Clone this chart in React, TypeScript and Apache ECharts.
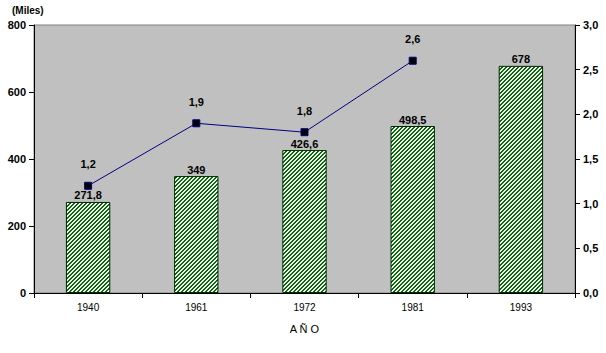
import React, { useEffect, useRef } from "react";
import * as echarts from "echarts";

const categories = ["1940", "1961", "1972", "1981", "1993"];
const population = [271.8, 349, 426.6, 498.5, 678];
const rate = [1.2, 1.9, 1.8, 2.6, null];
const leftTicks = { min: 0, max: 800, interval: 200 };
const rightTicks = { min: 0, max: 3, interval: 0.5 };

const fmt = (v: number, d?: number) => {
  const s = d === undefined ? String(v) : v.toFixed(d);
  return s.replace(".", ",");
};

function makeStripe(): string {
  const c = document.createElement("canvas");
  c.width = 4;
  c.height = 4;
  const ctx = c.getContext("2d")!;
  ctx.fillStyle = "#ffffff";
  ctx.fillRect(0, 0, 4, 4);
  ctx.fillStyle = "#007000";
  for (let x = 0; x < 4; x++) {
    for (let y = 0; y < 4; y++) {
      const k = (x + y) % 4;
      if (k === 0 || k === 1) ctx.fillRect(x, y, 1, 1);
    }
  }
  return c.toDataURL();
}

export default function App() {
  const ref = useRef<HTMLDivElement>(null);
  useEffect(() => {
    if (!ref.current) return;
    const chart = echarts.init(ref.current, null, { renderer: "svg" });
    const stripe = makeStripe();
    const font = "Liberation Sans, Arial, sans-serif";
    chart.setOption({
      animation: false,
      textStyle: { fontFamily: font },
      grid: {
        left: 34,
        right: 31,
        top: 25,
        bottom: 60,
        show: true,
        backgroundColor: "#C0C0C0",
        borderColor: "#808080",
        borderWidth: 1,
      },
      graphic: [
        {
          type: "text",
          left: 12,
          top: 5,
          style: { text: "(Miles)", font: `bold 10px ${font}`, fill: "#000" },
        },
      ],
      xAxis: {
        type: "category",
        data: categories,
        boundaryGap: true,
        name: "A Ñ O",
        nameLocation: "middle",
        nameGap: 30,
        nameTextStyle: { fontSize: 11, color: "#000", fontFamily: font },
        axisLine: { lineStyle: { color: "#000", width: 1 } },
        axisTick: { show: true, length: 5, lineStyle: { color: "#000" } },
        axisLabel: { color: "#000", fontSize: 10, margin: 9, fontFamily: font },
        splitLine: { show: false },
      },
      yAxis: [
        {
          type: "value",
          ...leftTicks,
          axisLine: { show: true, lineStyle: { color: "#000", width: 1 } },
          axisTick: { show: true, length: 5, lineStyle: { color: "#000" } },
          axisLabel: { color: "#000", fontSize: 11, fontWeight: "bold", margin: 8, fontFamily: font },
          splitLine: { show: false },
        },
        {
          type: "value",
          ...rightTicks,
          position: "right",
          axisLine: { show: true, lineStyle: { color: "#000", width: 1 } },
          axisTick: { show: true, length: 5, lineStyle: { color: "#000" } },
          axisLabel: {
            color: "#000",
            fontSize: 11,
            fontWeight: "bold",
            margin: 8,
            fontFamily: font,
            formatter: (v: number) => fmt(v, 1),
          },
          splitLine: { show: false },
        },
      ],
      series: [
        {
          type: "bar",
          data: population,
          barWidth: "41%",
          itemStyle: {
            color: { image: stripe, repeat: "repeat" },
            borderColor: "#002800",
            borderWidth: 1,
          },
          label: {
            show: true,
            position: "top",
            distance: 1,
            color: "#000",
            fontSize: 11,
            fontWeight: "bold",
            fontFamily: font,
            formatter: (p: any) => fmt(p.value),
          },
          z: 2,
        },
        {
          type: "line",
          yAxisIndex: 1,
          data: rate,
          symbol: "rect",
          symbolSize: 7,
          lineStyle: { color: "#000080", width: 1 },
          itemStyle: { color: "#000000", borderColor: "#000080", borderWidth: 1 },
          label: {
            show: true,
            position: "top",
            distance: 12,
            color: "#000",
            fontSize: 11,
            fontWeight: "bold",
            fontFamily: font,
            formatter: (p: any) => fmt(p.value, 1),
          },
          z: 3,
        },
      ],
    });
    return () => chart.dispose();
  }, []);
  return <div ref={ref} style={{ width: 606, height: 353, position: "absolute", left: 0, top: 0 }} />;
}
